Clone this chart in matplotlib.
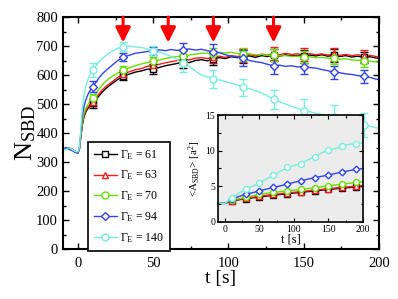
import matplotlib
matplotlib.use("Agg")
import matplotlib.pyplot as plt
from matplotlib.lines import Line2D
from matplotlib.ticker import MultipleLocator
import numpy as np

plt.rcParams['font.family'] = ['Liberation Serif', 'DejaVu Serif']
plt.rcParams['mathtext.fontset'] = 'custom'
plt.rcParams['mathtext.rm'] = 'Liberation Serif'
plt.rcParams['mathtext.it'] = 'Liberation Serif:italic'

# ---------------- main panel data ----------------
t_line = [-10, -8, -6, -4, -2, 0, 1, 2, 3, 4, 5, 6, 7, 8, 10, 12, 14, 16, 18, 20, 23, 26, 30,
          34, 38, 42, 46, 50, 54, 58, 62, 66, 70, 74, 78, 82, 86, 90, 94, 98, 102, 106, 110,
          114, 118, 122, 126, 130, 134, 138, 142, 146, 150, 154, 158, 162, 166, 170, 174, 178,
          182, 186, 190, 194, 198, 200]

n_g61 = [348, 345, 350, 343, 338, 332, 345, 390, 430, 455, 470, 480, 487, 493, 502,
         515, 528, 540, 551, 560, 572, 583, 596,
         603, 610, 614, 620, 621, 626, 632, 636, 640, 646, 643, 650, 653, 649, 656, 660, 657, 663, 660, 664,
         666, 661, 667, 664, 669, 665, 670, 666, 668, 664, 669, 666, 670, 665, 668, 664, 667,
         662, 665, 661, 663, 659, 658]
n_g63 = [346, 344, 348, 345, 336, 332, 345, 392, 434, 460, 474, 485, 492, 498, 507,
         521, 535, 548, 558, 566, 578, 590, 604,
         611, 618, 622, 630, 634, 637, 642, 646, 650, 655, 652, 658, 660, 657, 662, 665, 661, 667, 664, 668,
         671, 666, 672, 669, 673, 670, 675, 671, 673, 670, 674, 670, 673, 669, 672, 668, 671,
         667, 670, 666, 668, 664, 663]
n_g70 = [344, 347, 346, 342, 335, 333, 346, 395, 440, 467, 482, 493, 502, 510, 522,
         537, 552, 565, 576, 585, 596, 606, 616,
         625, 632, 638, 643, 647, 652, 657, 661, 664, 664, 669, 672, 675, 676, 672, 678, 676, 678, 674, 672,
         673, 670, 671, 668, 669, 666, 667, 664, 665, 662, 663, 660, 661, 658, 659, 655, 656,
         652, 651, 648, 648, 645, 645]
n_g94 = [342, 350, 344, 340, 334, 330, 348, 405, 460, 490, 510, 525, 537, 546, 560,
         575, 590, 603, 613, 622, 635, 648, 662,
         668, 675, 678, 681, 683, 687, 684, 688, 685, 687, 690, 686, 689, 684, 680, 677, 670, 665, 662, 658,
         650, 646, 643, 637, 632, 634, 630, 632, 628, 629, 626, 624, 619, 615, 610, 608, 604,
         602, 598, 595, 592, 586, 584]
n_g140 = [345, 342, 349, 344, 337, 335, 350, 420, 490, 530, 555, 575, 590, 603, 618,
          632, 645, 656, 665, 673, 683, 692, 698,
          700, 697, 695, 690, 684, 680, 672, 664, 653, 641, 630, 614, 600, 594, 587, 583, 577, 572, 565, 558,
          553, 546, 538, 528, 516, 508, 500, 492, 485, 477, 474, 468, 464, 461, 456, 451, 445,
          438, 432, 428, 424, 418, 417]

t_marks = [10, 30, 50, 70, 90, 110, 130, 150, 170, 190]
err_g61 = [14, 14, 16, 20, 22, 22, 22, 22, 22, 20]
err_g63 = [12, 12, 15, 18, 20, 22, 22, 22, 22, 20]
err_g70 = [14, 14, 15, 18, 20, 22, 22, 22, 22, 20]
err_g94 = [20, 15, 14, 25, 28, 28, 30, 25, 22, 22]
err_g140 = [24, 16, 15, 30, 30, 30, 33, 40, 40, 40]

arrow_t = [30, 60, 90, 130]

# ---------------- inset data ----------------
t_in = [-10, -5, 0, 5, 10, 20, 30, 40, 50, 60, 70, 80, 90, 100, 110, 120, 130, 140, 150,
        160, 170, 180, 190, 200]
a_g61 = [2.7, 2.6, 2.6, 2.78, 2.95, 3.1, 3.25, 3.38, 3.5, 3.62, 3.75, 3.85, 3.95, 4.05, 4.15,
         4.25, 4.35, 4.45, 4.55, 4.65, 4.75, 4.82, 4.9, 5.0]
a_g63 = [2.7, 2.6, 2.6, 2.8, 3.0, 3.15, 3.3, 3.45, 3.6, 3.72, 3.85, 3.95, 4.05, 4.15, 4.25,
         4.35, 4.45, 4.55, 4.65, 4.75, 4.85, 4.92, 5.0, 5.1]
a_g70 = [2.7, 2.6, 2.6, 2.85, 3.1, 3.25, 3.43, 3.65, 3.85, 4.0, 4.13, 4.25, 4.37, 4.45, 4.55,
         4.68, 4.79, 4.92, 5.07, 5.18, 5.3, 5.42, 5.54, 5.65]
a_g94 = [2.7, 2.6, 2.6, 2.9, 3.2, 3.55, 3.9, 4.1, 4.36, 4.6, 4.83, 5.05, 5.3, 5.55, 5.77,
         6.0, 6.2, 6.4, 6.57, 6.8, 7.0, 7.2, 7.37, 7.5]
a_g140 = [2.7, 2.6, 2.6, 3.0, 3.4, 4.0, 4.6, 5.0, 5.5, 6.0, 6.55, 7.1, 7.65, 7.9, 8.2,
          8.7, 9.15, 9.7, 10.1, 10.3, 10.65, 10.9, 11.0, 11.1]

gammas = ['61', '63', '70', '94', '140']
colors = ['#000000', '#ff1a1a', '#66e000', '#3344ee', '#77eedd']
markers = ['s', '^', 'o', 'D', 'o']
msizes = [4.5, 5, 5, 4, 5]

main_series = [n_g61, n_g63, n_g70, n_g94, n_g140]
main_errs = [err_g61, err_g63, err_g70, err_g94, err_g140]
inset_series = [a_g61, a_g63, a_g70, a_g94, a_g140]

fig = plt.figure(figsize=(3.98, 2.99), dpi=100)
ax = fig.add_axes([0.158, 0.167, 0.794, 0.776])

t_arr = np.array(t_line)
for vals, errs, c, m, ms in zip(main_series, main_errs, colors, markers, msizes):
    v = np.array(vals)
    ax.plot(t_arr, v, color=c, lw=1.0, zorder=2)
    idx = [t_line.index(tm) for tm in t_marks]
    ax.errorbar(np.array(t_marks), v[idx], yerr=errs, fmt='none', ecolor=c,
                elinewidth=1.0, capsize=3, capthick=1.0, zorder=3)
    ax.plot(np.array(t_marks), v[idx], linestyle='none', marker=m, ms=ms,
            mfc='white', mec=c, mew=1.0, zorder=4)

for ta in arrow_t:
    ax.annotate('', xy=(ta, 712), xytext=(ta, 800),
                arrowprops=dict(arrowstyle='-|>,head_width=0.45,head_length=0.9',
                                color='#ff0000', lw=2.2, shrinkA=0, shrinkB=0),
                zorder=6, annotation_clip=False)

ax.set_xlim(-10, 200)
ax.set_ylim(0, 800)
ax.xaxis.set_major_locator(MultipleLocator(50))
ax.xaxis.set_minor_locator(MultipleLocator(25))
ax.yaxis.set_major_locator(MultipleLocator(100))
ax.yaxis.set_minor_locator(MultipleLocator(50))
ax.tick_params(which='both', direction='in', top=True, right=True, labelsize=10.5,
               width=1.0)
ax.tick_params(which='major', length=4)
ax.tick_params(which='minor', length=2.5)
ax.tick_params(axis='x', pad=6)
for s in ax.spines.values():
    s.set_linewidth(1.5)
ax.set_xlabel('t [s]', fontsize=14, labelpad=0)
ax.set_ylabel(r'$\mathrm{N}_{\mathrm{SBD}}$', fontsize=19, labelpad=-1)

handles = [Line2D([0], [0], color=c, lw=1.0, marker=m, ms=ms, mfc='white', mec=c, mew=1.0)
           for c, m, ms in zip(colors, markers, msizes)]
labels = [r'$\Gamma_{\mathrm{E}}$ = ' + g for g in gammas]
leg = ax.legend(handles, labels, loc='upper left', bbox_to_anchor=(88 / 398, 1 - 142 / 299),
                bbox_transform=fig.transFigure, borderaxespad=0, fontsize=8.6,
                handlelength=1.9, handletextpad=0.25, labelspacing=0.58, fancybox=False,
                edgecolor='black', framealpha=1, borderpad=0.5)
leg.get_frame().set_linewidth(1.2)
leg.set_zorder(10)

# ---------------- inset ----------------
axi = fig.add_axes([0.548, 0.258, 0.364, 0.357])
axi.set_facecolor('#ececec')
t_in_arr = np.array(t_in)
mk_idx = [t_in.index(tm) for tm in t_marks]
for vals, c, m, ms in zip(inset_series, colors, markers, msizes):
    v = np.array(vals)
    axi.plot(t_in_arr, v, color=c, lw=1.0)
    axi.plot(t_in_arr[mk_idx], v[mk_idx], linestyle='none', marker=m, ms=ms * 0.85,
             mfc='white', mec=c, mew=1.0)
axi.set_xlim(-10, 200)
axi.set_ylim(0, 15)
axi.xaxis.set_major_locator(MultipleLocator(50))
axi.xaxis.set_minor_locator(MultipleLocator(25))
axi.yaxis.set_major_locator(MultipleLocator(5))
axi.yaxis.set_minor_locator(MultipleLocator(2.5))
axi.tick_params(which='both', direction='in', top=True, right=True, labelsize=7, width=0.8, pad=2)
axi.tick_params(which='major', length=3)
axi.tick_params(which='minor', length=1.8)
for s in axi.spines.values():
    s.set_linewidth(1.2)
axi.set_xlabel('t [s]', fontsize=9, labelpad=0)
axi.set_ylabel(r'<$\mathrm{A}_{\mathrm{SBD}}$> [a$^2$]', fontsize=8, labelpad=2)

fig.savefig('out.png', dpi=100)
